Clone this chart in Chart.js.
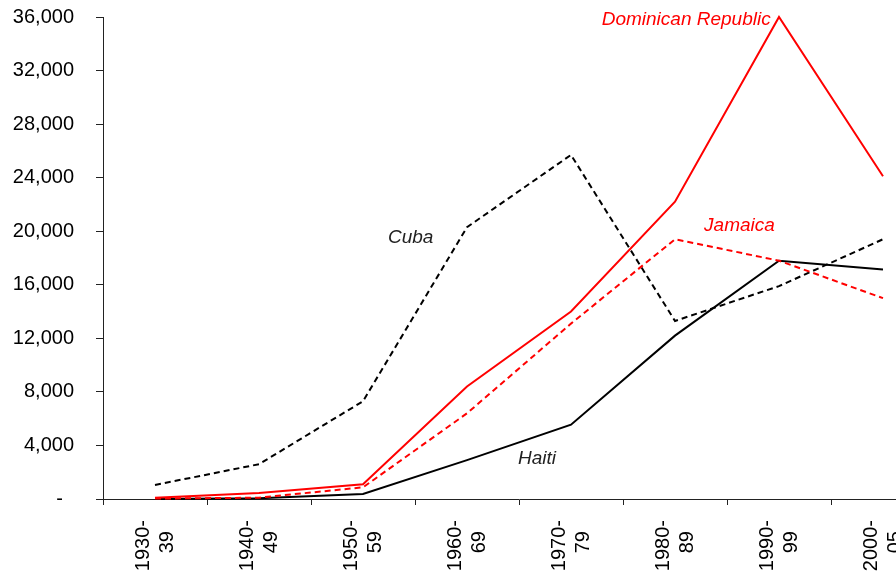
<!DOCTYPE html>
<html>
<head>
<meta charset="utf-8">
<script src="https://cdn.jsdelivr.net/npm/chart.js@4.4.1/dist/chart.umd.min.js"></script>
<style>
  html, body { margin: 0; padding: 0; background: #fff; overflow: hidden; }
  canvas { display: block; }
</style>
</head>
<body>
<canvas id="migrationChart" width="940" height="600"></canvas>
<script>
// Desetljeća (dva retka, drugi centriran razmacima)
const decades = [
  ['1930-', '39  '], ['1940-', '49  '], ['1950-', '59  '], ['1960-', '69  '],
  ['1970-', '79  '], ['1980-', '89  '], ['1990-', '99  '], ['2000-', '05  ']
];

// Vrijednosti očitane sa slike
const dominican = [100, 450, 1100, 8400, 14000, 22200, 36000, 24100];
const jamaica   = [30, 100, 870, 6400, 13100, 19400, 17800, 15000];
const cuba      = [1050, 2600, 7300, 20300, 25700, 13300, 15900, 19400];
const haiti     = [0, 50, 370, 2900, 5550, 12200, 17800, 17150];

// Oznake serija na grafu (položaj u jedinicama kategorije / vrijednosti)
const seriesNames  = ['Dominican Republic', 'Jamaica', 'Cuba', 'Haiti'];
const namePos      = [5.92, 5.28, 2.24, 3.49];
const nameValue    = [35800, 20400, 19500, 3000];
const nameAlign    = ['right', 'left', 'left', 'left'];
const nameColor    = ['#ff0000', '#ff0000', '#222222', '#222222'];

const FONT = "'Liberation Sans', Arial, sans-serif";

const seriesLabelsPlugin = {
  id: 'seriesLabels',
  afterDatasetsDraw(chart) {
    const { ctx, scales: { x, y } } = chart;
    const x0 = x.getPixelForValue(0);
    const step = x.getPixelForValue(1) - x0;
    ctx.save();
    ctx.font = 'italic 19px ' + FONT;
    ctx.textBaseline = 'middle';
    seriesNames.forEach((name, i) => {
      ctx.fillStyle = nameColor[i];
      ctx.textAlign = nameAlign[i];
      ctx.fillText(name, x0 + namePos[i] * step, y.getPixelForValue(nameValue[i]));
    });
    ctx.restore();
  }
};

const ctx = document.getElementById('migrationChart').getContext('2d');

new Chart(ctx, {
  type: 'line',
  data: {
    labels: decades,
    datasets: [
      { label: 'Dominican Republic', data: dominican, borderColor: '#ff0000' },
      { label: 'Jamaica', data: jamaica, borderColor: '#ff0000', borderDash: [6, 4] },
      { label: 'Cuba', data: cuba, borderColor: '#000000', borderDash: [6, 4] },
      { label: 'Haiti', data: haiti, borderColor: '#000000' }
    ]
  },
  options: {
    responsive: false,
    devicePixelRatio: 1,
    animation: false,
    layout: { padding: { top: 17, right: 5, left: 0, bottom: 0 } },
    elements: {
      line: { borderWidth: 2, tension: 0, fill: false },
      point: { radius: 0, hoverRadius: 0 }
    },
    datasets: { line: { clip: 4 } },
    scales: {
      x: {
        offset: true,
        grid: { offset: true, drawOnChartArea: false, tickLength: 6, color: '#222' },
        border: { color: '#222', width: 1 },
        ticks: {
          autoSkip: false,
          minRotation: 90,
          maxRotation: 90,
          padding: 15,
          labelOffset: -12,
          color: '#000',
          font: { family: FONT, size: 20, lineHeight: 1.2 }
        },
        afterFit(scale) {
          scale.height = 101;
          scale.paddingLeft = 0;
          scale.paddingRight = 0;
        }
      },
      y: {
        min: 0,
        max: 36000,
        grid: { drawOnChartArea: false, tickLength: 7, color: '#222' },
        border: { color: '#222', width: 1 },
        ticks: {
          stepSize: 4000,
          padding: 22,
          color: '#000',
          font: { family: FONT, size: 20 },
          callback: v => v === 0 ? '-  ' : v.toLocaleString('en-US')
        },
        afterFit(scale) {
          scale.width = 103;
          scale.paddingTop = 0;
          scale.paddingBottom = 0;
        }
      }
    },
    plugins: {
      legend: { display: false },
      tooltip: { enabled: false }
    }
  },
  plugins: [seriesLabelsPlugin]
});
</script>
</body>
</html>
